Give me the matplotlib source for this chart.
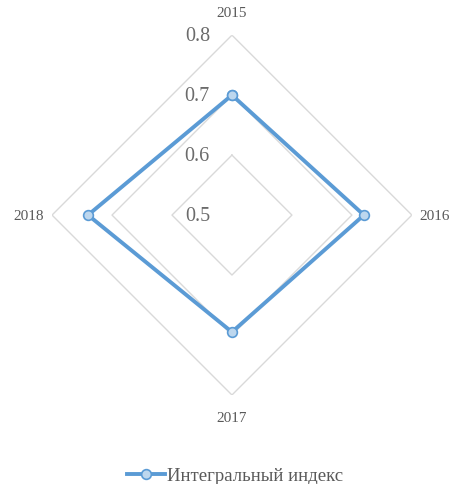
import matplotlib.pyplot as plt
import numpy as np

years = ["2015", "2016", "2017", "2018"]
index_values = [0.70, 0.72, 0.695, 0.74]
r_ticks = [0.5, 0.6, 0.7, 0.8]
r_tick_labels = ["0.5", "0.6", "0.7", "0.8"]

plt.rcParams["font.family"] = ["Liberation Serif", "DejaVu Serif"]

fig = plt.figure(figsize=(4.55, 4.85), dpi=100)
ax = fig.add_axes([0.1143, 0.1835, 0.791, 0.742], projection="polar")
ax.set_theta_zero_location("N")
ax.set_theta_direction(-1)
ax.set_ylim(r_ticks[0], r_ticks[-1])

angles = np.linspace(0, 2 * np.pi, len(years), endpoint=False)
closed = np.append(angles, angles[0])

# ромбовидная сетка вместо круговой
ax.grid(False)
ax.spines["polar"].set_visible(False)
for t in r_ticks[1:]:
    ax.plot(closed, [t] * len(closed), color="#D9D9D9", lw=1.0, zorder=1)

ax.set_yticks([])
for t, lab in zip(r_ticks, r_tick_labels):
    ax.annotate(lab, xy=(0, t), xytext=(-22, 0), textcoords="offset pixels",
                ha="right", va="center", fontsize=14.5, color="#6b6b6b")

ax.set_xticks(angles)
ax.set_xticklabels(years, fontsize=11, color="#595959")
ax.tick_params(axis="x", pad=6)

vals = index_values + index_values[:1]
ax.plot(closed, vals, color="#5B9BD5", lw=2.8, marker="o", markersize=7,
        markerfacecolor="#BDD7EE", markeredgecolor="#5B9BD5", markeredgewidth=1.2,
        label="Интегральный индекс", zorder=3)

leg = fig.legend(loc="lower center", bbox_to_anchor=(0.517, -0.035), frameon=False,
                 fontsize=13.5, handlelength=2.0, handletextpad=0.1)
for text in leg.get_texts():
    text.set_color("#595959")

fig.savefig("out.png", dpi=100)
